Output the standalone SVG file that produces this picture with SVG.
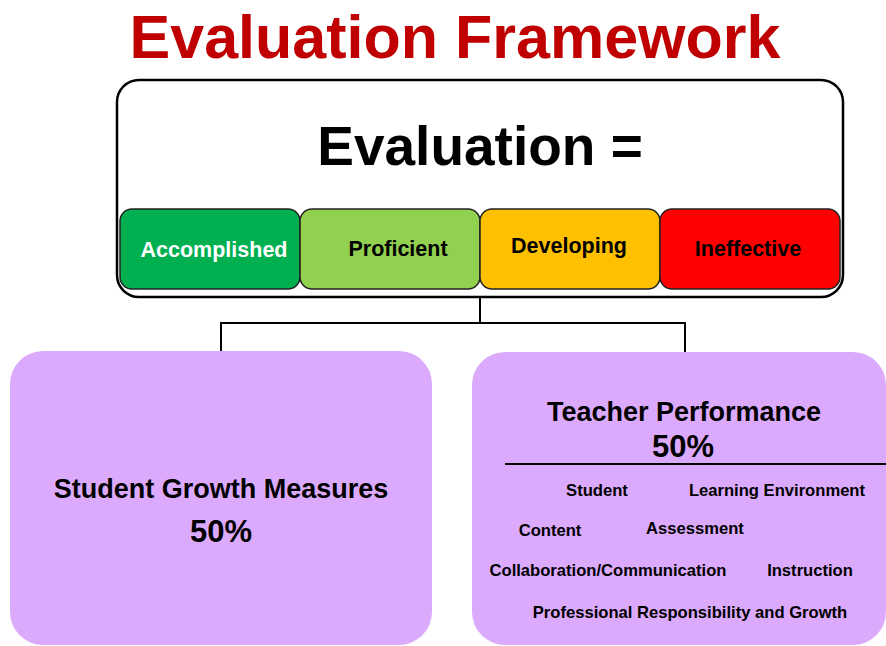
<svg xmlns="http://www.w3.org/2000/svg" width="886" height="646" viewBox="0 0 886 646">
<style>
text{font-family:"Liberation Sans",Arial,sans-serif;font-weight:bold;text-anchor:middle;}
.title{fill:#C00000;font-size:61px;}
.rating{stroke:#222;stroke-width:1.5;}
.lbl{font-size:21.5px;fill:#000;}
.purple{fill:#DCAAFC;}
.big{font-size:27px;fill:#000;}
.pct{font-size:31px;fill:#000;}
.sm{font-size:16.6px;fill:#000;}
.conn{fill:none;stroke:#000;stroke-width:2;}
</style>
<rect width="886" height="646" fill="#fff"/>
<text class="title" x="455" y="58">Evaluation Framework</text>
<g id="evaluation">
<rect x="117" y="80" width="726" height="217" rx="22" fill="#fff" stroke="#000" stroke-width="2.5"/>
<text x="480" y="165" style="font-size:55px">Evaluation =</text>
</g>
<g id="accomplished">
<rect class="rating" x="120" y="209" width="180" height="80" rx="12" fill="#00B050"/>
<text class="lbl" x="214" y="257" style="fill:#fff">Accomplished</text>
</g>
<g id="proficient">
<rect class="rating" x="300" y="209" width="180" height="80" rx="12" fill="#92D050"/>
<text class="lbl" x="398" y="256">Proficient</text>
</g>
<g id="developing">
<rect class="rating" x="480" y="209" width="180" height="80" rx="12" fill="#FFC000"/>
<text class="lbl" x="569" y="253">Developing</text>
</g>
<g id="ineffective">
<rect class="rating" x="660" y="209" width="180" height="80" rx="12" fill="#FF0000"/>
<text class="lbl" x="748" y="256">Ineffective</text>
</g>
<g id="connectors">
<path class="conn" d="M480 297 V323 M221 323 H685 M221 322 V351 M685 322 V352"/>
</g>
<g id="student-growth">
<rect class="purple" x="10" y="351" width="422" height="294" rx="33"/>
<text class="big" x="221" y="498">Student Growth Measures</text>
<text class="pct" x="221" y="542">50%</text>
</g>
<g id="teacher-performance">
<rect class="purple" x="472" y="352" width="414" height="293" rx="33"/>
<text class="big" x="684" y="421">Teacher Performance</text>
<text class="pct" x="683" y="457">50%</text>
<line x1="505" y1="464" x2="886" y2="464" stroke="#000" stroke-width="2"/>
<text class="sm" x="597" y="496">Student</text>
<text class="sm" x="777" y="496">Learning Environment</text>
<text class="sm" x="550" y="536">Content</text>
<text class="sm" x="695" y="534">Assessment</text>
<text class="sm" x="608" y="576">Collaboration/Communication</text>
<text class="sm" x="810" y="576">Instruction</text>
<text class="sm" x="690" y="618">Professional Responsibility and Growth</text>
</g>
</svg>
